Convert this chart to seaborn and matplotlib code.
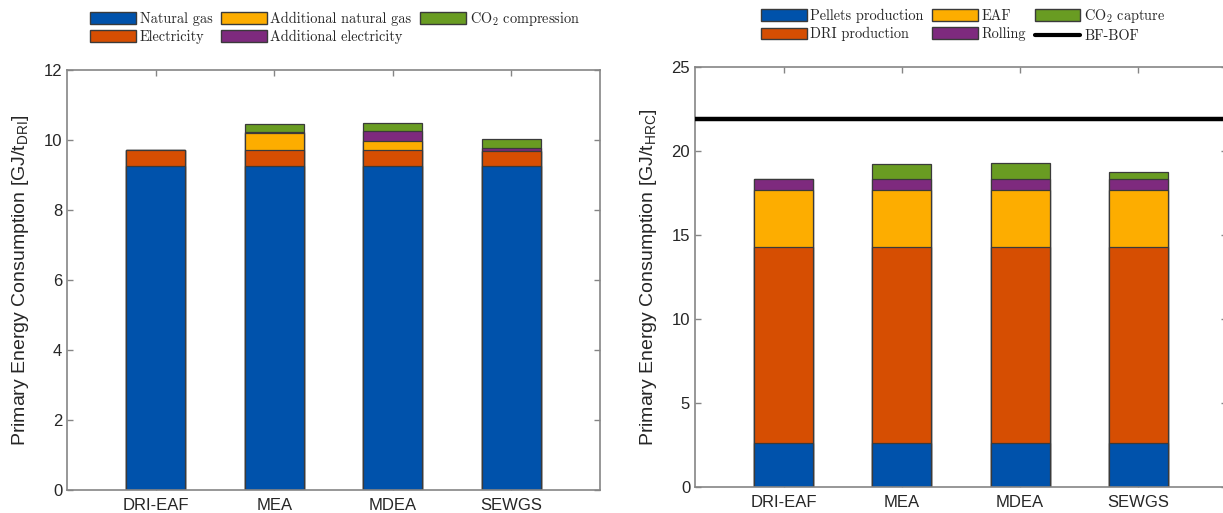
import numpy as np
import pandas as pd
import matplotlib
matplotlib.use("Agg")
import matplotlib.pyplot as plt
from matplotlib.patches import Patch
from matplotlib.lines import Line2D
from matplotlib.font_manager import FontProperties
import seaborn as sns

# ---- data -------------------------------------------------------------
cases = ["DRI-EAF", "MEA", "MDEA", "SEWGS"]

# Primary energy per tonne of DRI [GJ/t_DRI]
natural_gas = [9.25, 9.25, 9.25, 9.25]
electricity = [0.46, 0.46, 0.46, 0.45]
additional_natural_gas = [0.0, 0.50, 0.25, 0.0]
additional_electricity = [0.0, 0.02, 0.30, 0.08]
co2_compression = [0.0, 0.24, 0.22, 0.25]

# Primary energy per tonne of hot rolled coil [GJ/t_HRC]
pellets_production = [2.6, 2.6, 2.6, 2.6]
dri_production = [11.7, 11.7, 11.7, 11.7]
eaf = [3.4, 3.4, 3.4, 3.4]
rolling = [0.65, 0.65, 0.65, 0.65]
co2_capture = [0.0, 0.90, 0.92, 0.38]
bf_bof = 21.9

left_labels = ["Natural gas", "Electricity", "Additional natural gas",
               "Additional electricity", "CO$_2$ compression"]
right_labels = ["Pellets production", "DRI production", "EAF", "Rolling",
                "CO$_2$ capture", "BF-BOF"]

# ---- style ------------------------------------------------------------
sns.set_theme(style="white")
plt.rcParams["font.family"] = ["Liberation Sans", "DejaVu Sans"]
plt.rcParams["mathtext.fontset"] = "custom"
plt.rcParams["mathtext.rm"] = "Liberation Sans"
plt.rcParams["mathtext.it"] = "Liberation Sans:italic"
plt.rcParams["mathtext.bf"] = "Liberation Sans:bold"

BLUE = "#0052AB"
ORANGE = "#D64E02"
YELLOW = "#FDAD00"
PURPLE = "#7E2A7E"
GREEN = "#699C22"
EDGE = "#3a3a3a"
AXC = "#858585"
TXT = "#262626"

fig = plt.figure(figsize=(12.23, 5.13), dpi=100)
axL = fig.add_axes([67 / 1223, 1 - 490 / 513, 533 / 1223, 420 / 513])
axR = fig.add_axes([695 / 1223, 1 - 487 / 513, 532 / 1223, 420 / 513])


def stacked(ax, layers, colors):
    """Draw stacked bars by overlaying cumulative totals, top layer first."""
    cum = np.cumsum(np.array(layers, dtype=float), axis=0)
    for level in range(len(layers) - 1, -1, -1):
        df = pd.DataFrame({"case": cases, "value": cum[level]})
        sns.barplot(data=df, x="case", y="value", order=cases, ax=ax,
                    color=colors[level], saturation=1, width=0.5,
                    edgecolor=EDGE, linewidth=0.9, errorbar=None)


def style_axes(ax, ymax, step, ylabel):
    ax.set_xlim(-0.75, 3.75)
    ax.set_ylim(0, ymax)
    ax.set_yticks(np.arange(0, ymax + 0.01, step))
    ax.set_xlabel("")
    ax.set_ylabel(ylabel, fontsize=14, color=TXT, labelpad=9,
                  math_fontfamily="custom")
    for sp in ax.spines.values():
        sp.set_visible(True)
        sp.set_color(AXC)
        sp.set_linewidth(1.2)
    ax.tick_params(axis="both", direction="in", length=4, width=1,
                   color=AXC, labelcolor=TXT, labelsize=12,
                   top=True, right=True, bottom=True, left=True)
    ax.tick_params(axis="x", pad=6)
    ax.grid(False)


stacked(axL, [natural_gas, electricity, additional_natural_gas,
              additional_electricity, co2_compression],
        [BLUE, ORANGE, YELLOW, PURPLE, GREEN])
style_axes(axL, 12, 2, "Primary Energy Consumption [GJ/t$_{\\mathrm{DRI}}$]")

stacked(axR, [pellets_production, dri_production, eaf, rolling, co2_capture],
        [BLUE, ORANGE, YELLOW, PURPLE, GREEN])
axR.axhline(bf_bof, color="black", linewidth=3.2, zorder=5)
style_axes(axR, 25, 5, "Primary Energy Consumption [GJ/t$_{\\mathrm{HRC}}$]")

# ---- legends ----------------------------------------------------------
leg_font = FontProperties(family="cmr10", size=10.3, math_fontfamily="cm")


def patch(c):
    return Patch(facecolor=c, edgecolor=EDGE, linewidth=1.0)


legend_kw = dict(ncol=3, loc="center", frameon=False, prop=leg_font,
                 handlelength=3.2, handleheight=0.9, handletextpad=0.25,
                 columnspacing=0.6, labelspacing=0.3, borderpad=0.2)

left_handles = [patch(c) for c in [BLUE, ORANGE, YELLOW, PURPLE, GREEN]]
fig.legend(left_handles, left_labels,
           bbox_to_anchor=(335 / 1223, 1 - 27 / 513), **legend_kw)

right_handles = [patch(c) for c in [BLUE, ORANGE, YELLOW, PURPLE, GREEN]]
right_handles.append(Line2D([0], [0], color="black", linewidth=3))
fig.legend(right_handles, right_labels,
           bbox_to_anchor=(963 / 1223, 1 - 25 / 513), **legend_kw)

fig.savefig("out.png", dpi=100, facecolor="white")
